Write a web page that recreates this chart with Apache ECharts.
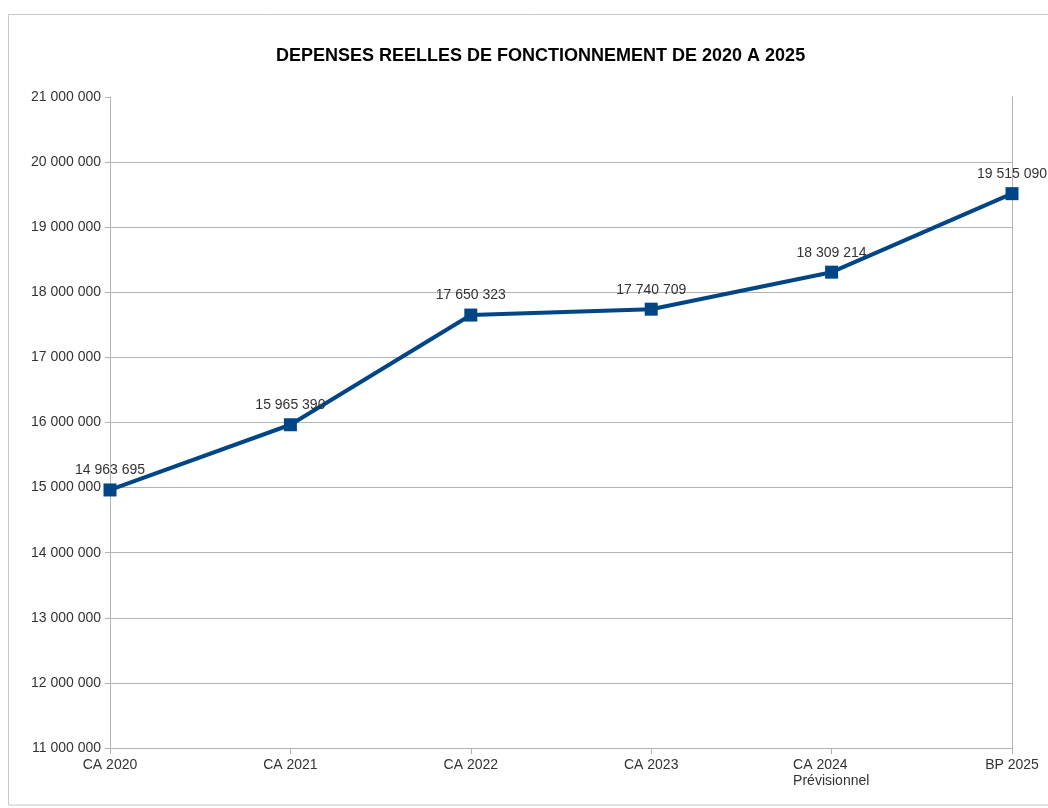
<!DOCTYPE html>
<html>
<head>
<meta charset="utf-8">
<script src="https://cdn.jsdelivr.net/npm/echarts@6/dist/echarts.min.js"></script>
<style>
html,body{margin:0;padding:0;background:#fff;}
#chart{width:1048px;height:808px;}
</style>
</head>
<body>
<div id="chart"></div>
<script>
var titleText = 'DEPENSES REELLES DE FONCTIONNEMENT DE 2020 A 2025';
var categories = ['CA 2020', 'CA 2021', 'CA 2022', 'CA 2023', 'CA 2024\nPrévisionnel', 'BP 2025'];
var values = [14963695, 15965390, 17650323, 17740709, 18309214, 19515090];
var yMin = 11000000, yMax = 21000000, yStep = 1000000;

var FONT = "'Liberation Sans Narrow', 'Liberation Sans', Arial, sans-serif";
function fmt(v) {
  return String(Math.round(v)).replace(/\B(?=(\d{3})+(?!\d))/g, ' ');
}

var chart = echarts.init(document.getElementById('chart'), null, {renderer: 'canvas'});
chart.setOption({
  backgroundColor: '#ffffff',
  animation: false,
  graphic: [{
    type: 'rect', z: -1,
    shape: {x: 8.5, y: 14.5, width: 1060, height: 790.5},
    style: {fill: 'none', stroke: '#c8c8c8', lineWidth: 1}
  }],
  title: {
    text: titleText, left: 271, top: 42,
    textStyle: {fontFamily: FONT, fontWeight: 'bold', fontSize: 18, color: '#000'}
  },
  grid: {left: 110, right: 36, top: 97, bottom: 60, containLabel: false},
  xAxis: {
    type: 'category', data: categories, boundaryGap: false,
    axisLine: {lineStyle: {color: '#b3b3b3', width: 1}},
    axisTick: {show: true, length: 6, lineStyle: {color: '#b3b3b3'}},
    axisLabel: {
      fontFamily: FONT, fontSize: 14, color: '#333', margin: 9, lineHeight: 16,
      formatter: function (v) {
        if (v.indexOf('\n') >= 0) {
          var p = v.split('\n');
          return '{a|' + p[0] + '}\n{a|' + p[1] + '}';
        }
        return v;
      },
      rich: {a: {width: 77, align: 'left', fontFamily: FONT, fontSize: 14, color: '#333', lineHeight: 16}}
    },
    splitLine: {show: false}
  },
  yAxis: [{
    type: 'value', min: yMin, max: yMax, interval: yStep,
    axisLine: {show: true, lineStyle: {color: '#b3b3b3', width: 1}},
    axisTick: {show: true, length: 5, lineStyle: {color: '#b3b3b3'}},
    axisLabel: {fontFamily: FONT, fontSize: 14, color: '#333', margin: 9, formatter: fmt},
    splitLine: {show: true, showMinLine: false, showMaxLine: false, lineStyle: {color: '#b3b3b3', width: 1}}
  }, {
    type: 'value', min: yMin, max: yMax, interval: yStep, position: 'right',
    axisLine: {show: true, lineStyle: {color: '#b3b3b3', width: 1}},
    axisTick: {show: false}, axisLabel: {show: false}, splitLine: {show: false}
  }],
  series: [{
    type: 'line', data: values, yAxisIndex: 0,
    symbol: 'rect', symbolSize: 13,
    lineStyle: {color: '#004586', width: 4},
    itemStyle: {color: '#004586'},
    label: {
      show: true, position: 'top', distance: 6,
      fontFamily: FONT, fontSize: 14, color: '#333',
      formatter: function (p) { return fmt(p.value); }
    }
  }]
});
</script>
</body>
</html>
